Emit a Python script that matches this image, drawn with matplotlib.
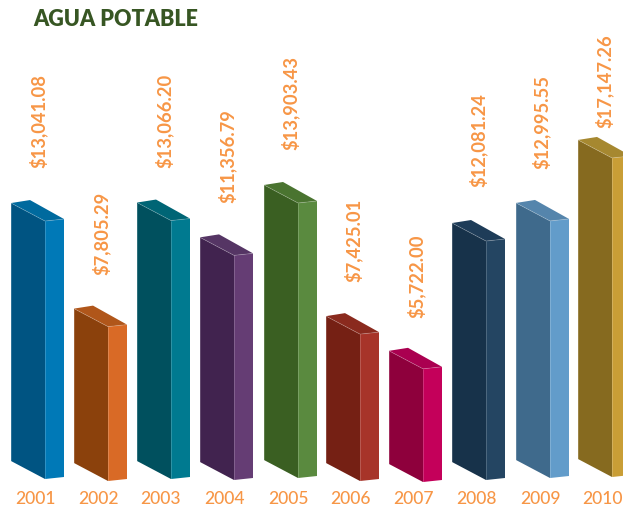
import numpy as np
import matplotlib
matplotlib.use('Agg')
import matplotlib.pyplot as plt
from matplotlib.patches import Polygon

years = ['2001', '2002', '2003', '2004', '2005', '2006', '2007', '2008', '2009', '2010']
amounts = [13041.08, 7805.29, 13066.20, 11356.79, 13903.43, 7425.01, 5722.00, 12081.24, 12995.55, 17147.26]
# the tallest bar is cut short in the original picture
bar_cap = 16130

left_cols = ['#005482', '#8B410C', '#00505E', '#41234F', '#3A5F22', '#752014', '#8E003C', '#17324A', '#3F6A8C', '#866A1F']
top_cols = ['#006A9E', '#B0561A', '#006575', '#553564', '#4A7430', '#8A2A1E', '#AA0050', '#1E3C58', '#5585AC', '#A68830']
right_cols = ['#0079B7', '#D96A26', '#007A90', '#653D74', '#5A8A3F', '#A73429', '#C4005A', '#244562', '#629CCA', '#C99E36']

# pixel layout
W, H = 623, 509
px = 0.01978  # pixels per dollar
base_y = 461
lefts = [11, 74, 137, 200, 264, 326, 389, 452, 516, 578]
base_off = [0, 2, 0, 1, -1, 2, 3, 1, -1, -2]
label_x = [38, 101, 164, 227, 290, 353, 416, 478, 541, 604]
label_gap = [35, 34, 35, 34, 35, 34, 33, 36, 34, 12]
orange = '#F79646'

plt.rcParams['font.family'] = ['Lato', 'DejaVu Sans']

fig = plt.figure(figsize=(W / 100, H / 100), dpi=100)
ax = fig.add_axes([0, 0, 1, 1])
ax.set_xlim(0, W)
ax.set_ylim((base_y - H) / px, base_y / px)
ax.axis('off')


def d(p):
    return p / px


for i, val in enumerate(amounts):
    x0 = lefts[i]
    x1, x2, xb = x0 + 34, x0 + 53, x0 + 19
    y0 = -d(base_off[i])
    yt = y0 + min(val, bar_cap)
    front = [(x0, yt), (x1, yt - d(18)), (x1, y0 - d(18)), (x0, y0)]
    side = [(x1, yt - d(18)), (x2, yt - d(16)), (x2, y0 - d(16)), (x1, y0 - d(18))]
    top = [(x0, yt), (xb, yt + d(3)), (x2, yt - d(16)), (x1, yt - d(18))]
    ax.add_patch(Polygon(front, fc=left_cols[i], ec='none'))
    ax.add_patch(Polygon(side, fc=right_cols[i], ec='none'))
    ax.add_patch(Polygon(top, fc=top_cols[i], ec='none'))
    # thin light edges on the box
    for a, b in [((x0, yt), (x1, yt - d(18))), ((x1, yt - d(18)), (x1, y0 - d(18))),
                 ((x1, yt - d(18)), (x2, yt - d(16))), ((x0, yt), (x0, y0)), ((x2, yt - d(16)), (x2, y0 - d(16)))]:
        ax.plot([a[0], b[0]], [a[1], b[1]], color='white', alpha=0.22, lw=0.6, solid_capstyle='butt')

    ax.text(label_x[i], yt + d(label_gap[i]), '${:,.2f}'.format(val), rotation=90, ha='center', va='bottom',
            color=orange, fontsize=13.2, fontweight='bold')
    ax.text(x0 + 24, d(base_y - 499), years[i], ha='center', va='center', color=orange, fontsize=12.6, fontweight='medium')

ax.text(33, d(base_y - 19), 'AGUA POTABLE', ha='left', va='center', color='#375623', fontsize=15.5, fontweight='heavy')

fig.savefig('out.png', dpi=100)
